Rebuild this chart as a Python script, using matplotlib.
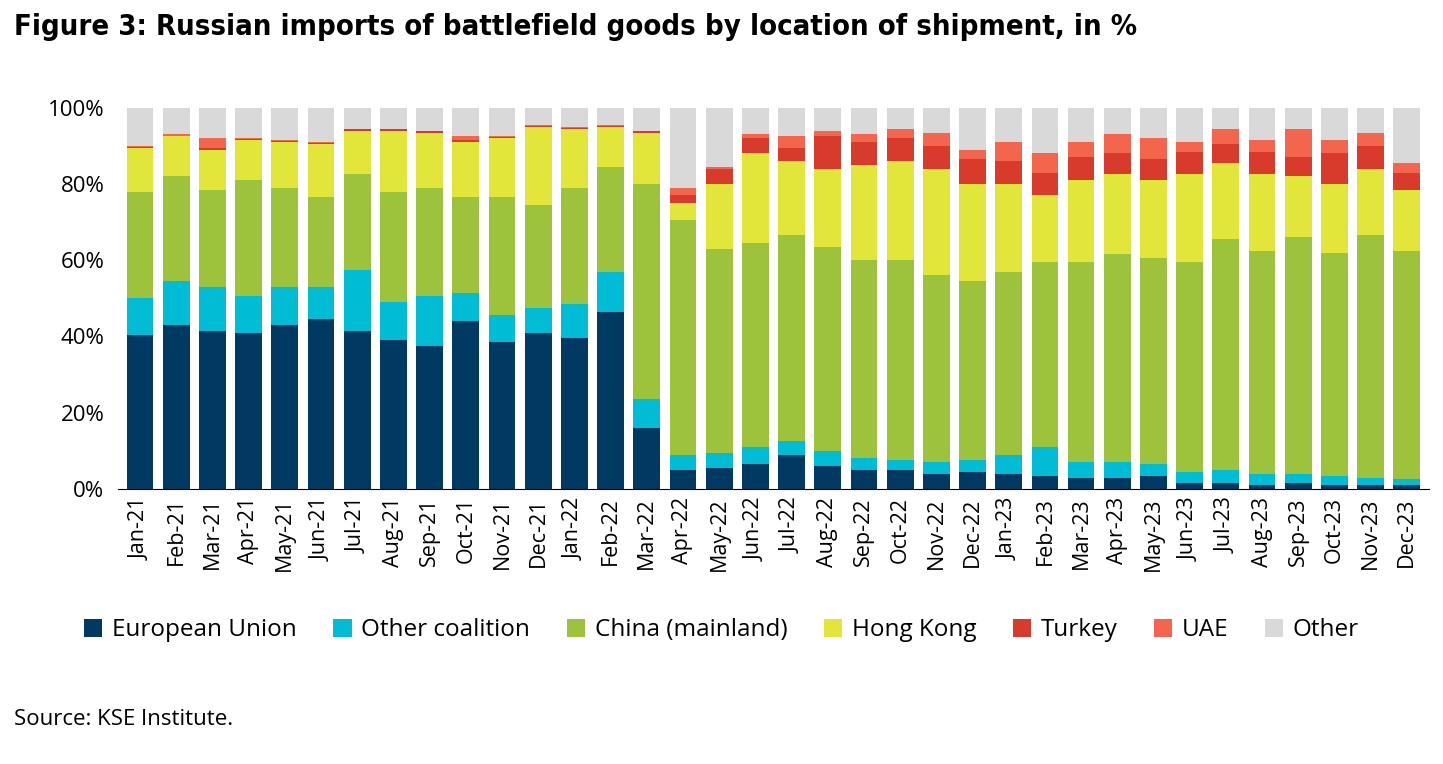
import numpy as np
import matplotlib.pyplot as plt
from matplotlib.ticker import PercentFormatter

plt.rcParams['font.family'] = ['Open Sans', 'DejaVu Sans']

months = ['Jan-21', 'Feb-21', 'Mar-21', 'Apr-21', 'May-21', 'Jun-21', 'Jul-21', 'Aug-21',
          'Sep-21', 'Oct-21', 'Nov-21', 'Dec-21', 'Jan-22', 'Feb-22', 'Mar-22', 'Apr-22',
          'May-22', 'Jun-22', 'Jul-22', 'Aug-22', 'Sep-22', 'Oct-22', 'Nov-22', 'Dec-22',
          'Jan-23', 'Feb-23', 'Mar-23', 'Apr-23', 'May-23', 'Jun-23', 'Jul-23', 'Aug-23',
          'Sep-23', 'Oct-23', 'Nov-23', 'Dec-23']

# cumulative top of each segment (%)
top_eu = [40.5, 43, 41.5, 41, 43, 44.5, 41.5, 39, 37.5, 44, 38.5, 41, 39.5, 46.5, 16, 5,
          5.5, 6.5, 9, 6, 5, 5, 4, 4.5, 4, 3.5, 3, 3, 3.5, 1.5, 1.5, 1, 1.5, 1, 1, 1]
top_oc = [50, 54.5, 53, 50.5, 53, 53, 57.5, 49, 50.5, 51.5, 45.5, 47.5, 48.5, 57, 23.5, 9,
          9.5, 11, 12.5, 10, 8, 7.5, 7, 7.5, 9, 11, 7, 7, 6.5, 4.5, 5, 4, 4, 3.5, 3, 2.5]
top_cn = [78, 82, 78.5, 81, 79, 76.5, 82.5, 78, 79, 76.5, 76.5, 74.5, 79, 84.5, 80, 70.5,
          63, 64.5, 66.5, 63.5, 60, 60, 56, 54.5, 57, 59.5, 59.5, 61.5, 60.5, 59.5, 65.5, 62.5,
          66, 62, 66.5, 62.5]
top_hk = [89.5, 92.5, 89, 91.5, 91, 90.5, 94, 94, 93.5, 91, 92, 95, 94.5, 95, 93.5, 75,
          80, 88, 86, 84, 85, 86, 84, 80, 80, 77, 81, 82.5, 81, 82.5, 85.5, 82.5,
          82, 80, 84, 78.5]
top_tr = [89.7, 92.7, 89.5, 91.7, 91.2, 90.7, 94.3, 94.3, 93.8, 91.5, 92.3, 95.3, 94.8, 95.3, 93.8, 77,
          84, 92, 89.5, 92.5, 91, 92, 90, 86.5, 86, 83, 87, 88, 86.5, 88.5, 90.5, 88.5,
          87, 88, 90, 83]
top_uae = [90, 93, 92, 92, 91.5, 91, 94.5, 94.5, 94, 92.5, 92.5, 95.5, 95, 95.5, 94, 79,
           84.5, 93, 92.5, 94, 93, 94.5, 93.5, 89, 91, 88, 91, 93, 92, 91, 94.5, 91.5,
           94.5, 91.5, 93.5, 85.5]
top_other = [100] * len(months)

names = ['European Union', 'Other coalition', 'China (mainland)', 'Hong Kong', 'Turkey', 'UAE', 'Other']
colors = ['#003a63', '#00bcd4', '#9dc23b', '#e3e63a', '#d83a2b', '#f4654d', '#d9d9d9']
tops = np.array([top_eu, top_oc, top_cn, top_hk, top_tr, top_uae, top_other])
bottoms = np.vstack([np.zeros(len(months)), tops[:-1]])

fig = plt.figure(figsize=(14.43, 7.64), dpi=100)
ax = fig.add_axes([0.082, 0.36, 0.908, 0.499])
x = np.arange(len(months))
for i in range(len(names)):
    ax.bar(x, tops[i] - bottoms[i], bottom=bottoms[i], width=0.74, color=colors[i], label=names[i])

ax.set_xlim(-0.6, len(months) - 0.4)
ax.set_ylim(0, 100)
ax.set_yticks(range(0, 101, 20))
ax.yaxis.set_major_formatter(PercentFormatter(decimals=0))
ax.set_xticks(x)
ax.set_xticklabels(months, rotation=90, fontsize=15.5)
ax.tick_params(axis='y', labelsize=16, length=0, pad=10)
ax.tick_params(axis='x', length=0, pad=6)
for s in ['top', 'right', 'left']:
    ax.spines[s].set_visible(False)
ax.spines['bottom'].set_color('black')

fig.legend(loc='center', bbox_to_anchor=(0.5, 0.175), ncol=7, frameon=False, fontsize=17.5,
           handlelength=0.75, handleheight=0.75, handletextpad=0.4, columnspacing=1.5)

fig.text(0.01, 0.965, 'Figure 3: Russian imports of battlefield goods by location of shipment, in %',
         fontsize=21, fontweight='bold', va='center', family=['DejaVu Sans'], stretch='condensed')
fig.text(0.01, 0.058, 'Source: KSE Institute.', fontsize=16, va='center')

fig.savefig('out.png', dpi=100)
